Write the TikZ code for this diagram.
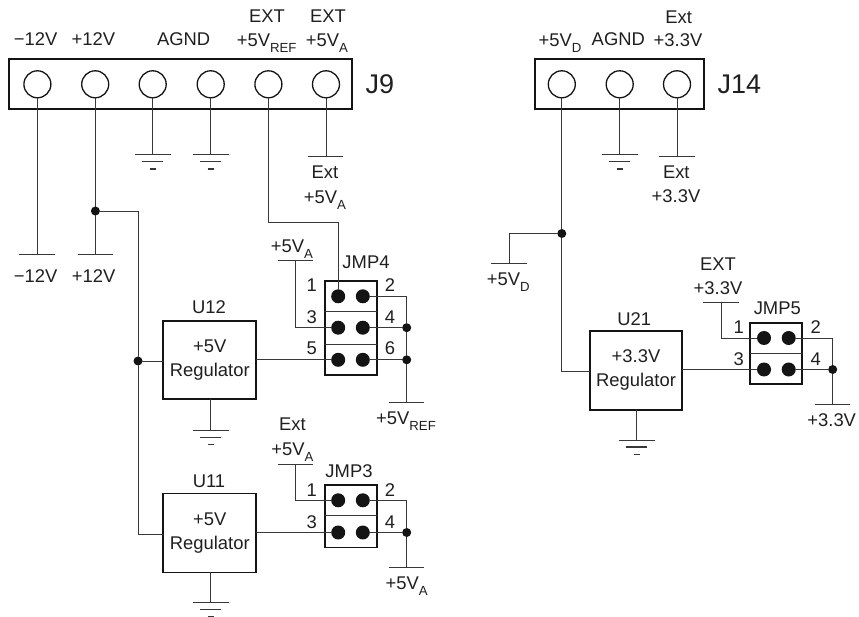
\documentclass[tikz,border=0pt]{standalone}
\usepackage{fontspec}
\setmainfont{Liberation Sans}
\newcommand{\subs}[1]{\raisebox{-0.33em}{\fontsize{13.2}{14}\selectfont #1}}
\tikzset{
  wire/.style={draw=black!78,line width=0.95pt,line cap=round,line join=miter},
  bar/.style={draw=black!78,line width=0.95pt},
  box/.style={draw=black!92,line width=1.9pt,inner sep=0pt,outer sep=0pt,rectangle,align=center,font=\fontsize{18.4}{24}\selectfont,text=black!88},
  jbox/.style={draw=black!92,line width=1.7pt,inner sep=0pt,outer sep=0pt,rectangle},
  term/.style={circle,draw=black!92,line width=1.3pt,minimum size=27pt,inner sep=0pt,outer sep=0pt},
  pin/.style={circle,fill=black!92,minimum size=14pt,inner sep=0pt,outer sep=0pt},
  junction/.style={circle,fill=black!92,minimum size=9pt,inner sep=0pt,outer sep=0pt},
  txt/.style={anchor=base,inner sep=0pt,outer sep=0pt,yshift=-6.5pt,text=black!88,font=\fontsize{18.4}{20}\selectfont},
  bigtxt/.style={anchor=base,inner sep=0pt,outer sep=0pt,yshift=-9pt,text=black!88,font=\fontsize{27}{28}\selectfont},
  gndsym/.pic={
    \draw[bar] (-18,0) -- (18,0);
    \draw[bar,line width=1.3pt] (-10.5,7) -- (10.5,7);
    \draw[bar,line width=1.1pt] (-3,14.5) -- (3,14.5);
  },
}
\begin{document}
\begin{tikzpicture}[x=1pt,y=-1pt]
\useasboundingbox (0,0) rectangle (859,617);
% ---------- J9
\node[jbox,minimum width=343pt,minimum height=49.5pt] (J9) at (180.5,84) {};
\foreach \n/\x in {a/37.4,b/95.2,c/152.7,d/210.7,e/268.4,f/326}
  \node[term] (J9\n) at (\x,84.3) {};
\node[bigtxt] (J9l) at (380,85) {J9};
\node[txt] (t1) at (35.7,39) {−12V};
\node[txt] (t2) at (93.3,39) {+12V};
\node[txt] (t3) at (183.7,39) {AGND};
\node[txt] (t4) at (267,16) {EXT};
\node[txt] (t5) at (266.7,40) {+5V\subs{REF}};
\node[txt] (t6) at (328,16) {EXT};
\node[txt] (t7) at (327,40) {+5V\subs{A}};
% rails from J9
\coordinate (m12) at (37.4,254);
\coordinate (p12) at (95.2,254);
\draw[wire] (J9a.south) -- (m12);
\draw[bar] (19,254) -- (55,254);
\draw[wire] (J9b.south) -- (p12);
\draw[bar] (77.5,254) -- (113,254);
\node[txt] (t8) at (35.7,276) {−12V};
\node[txt] (t9) at (93.7,276) {+12V};
\coordinate (g1) at (152.7,154.5);
\coordinate (g2) at (210.7,154.5);
\draw[wire] (J9c.south) -- (g1);
\draw[wire] (J9d.south) -- (g2);
\pic at (g1) {gndsym};
\pic at (g2) {gndsym};
\coordinate (xa) at (326,156);
\draw[wire] (J9f.south) -- (xa);
\draw[bar] (308,156) -- (343,156);
\node[txt] (t10) at (325,172) {Ext};
\node[txt] (t11) at (325,197) {+5V\subs{A}};
% ---------- U12
\node[box,minimum width=93pt,minimum height=78.5pt] (U12) at (209.8,360) {+5V\\Regulator};
\node[txt] (t12) at (209,307) {U12};
\coordinate (g3) at (210.7,430.3);
\draw[wire] (U12.south -| g3) -- (g3);
\pic at (g3) {gndsym};
% ---------- JMP4
\node[jbox,minimum width=51.7pt,minimum height=94pt] (JMP4) at (350.8,327.7) {};
\draw[wire] (JMP4.west |- 0,311) -- (JMP4.east |- 0,311);
\draw[wire] (JMP4.west |- 0,344) -- (JMP4.east |- 0,344);
\node[pin] (p41) at (338.2,296.3) {};
\node[pin] (p42) at (362.8,296.3) {};
\node[pin] (p43) at (338.2,327.7) {};
\node[pin] (p44) at (362.8,327.7) {};
\node[pin] (p45) at (338.2,359.8) {};
\node[pin] (p46) at (362.8,359.8) {};
\node[txt] (t13) at (366,261.7) {JMP4};
\node[txt] (n41) at (311.7,285) {1};
\node[txt] (n43) at (311.7,316.7) {3};
\node[txt] (n45) at (311.7,348) {5};
\node[txt] (n42) at (390,285) {2};
\node[txt] (n44) at (390,316.7) {4};
\node[txt] (n46) at (390,348) {6};
\node[txt] (t14) at (292,245.7) {+5V\subs{A}};
\coordinate (a4) at (295.7,260.7);
\draw[bar] (278,260.7) -- (313,260.7);
\draw[wire] (a4) |- (p43.west);
\coordinate (e4) at (268.4,222);
\draw[wire] (J9e.south) -- (e4) -| (p41.north);
\node[junction] (j44) at (406.7,327.7) {};
\node[junction] (j46) at (406.7,359.8) {};
\coordinate (r4) at (406.7,402.7);
\draw[wire] (p42.east) -| (j44.north);
\draw[wire] (p44.east) -- (j44.west);
\draw[wire] (p46.east) -- (j46.west);
\draw[wire] (j44.south) -- (j46.north);
\draw[wire] (j46.south) -- (r4);
\draw[bar] (389,402.7) -- (424,402.7);
\node[txt] (t15) at (406,418) {+5V\subs{REF}};
\draw[wire] (U12.east |- p45) -- (p45.west);
% ---------- U11
\node[box,minimum width=93pt,minimum height=79pt] (U11) at (209.8,533) {+5V\\Regulator};
\node[txt] (t16) at (209,480.7) {U11};
\coordinate (g4) at (210.7,602.3);
\draw[wire] (U11.south -| g4) -- (g4);
\pic at (g4) {gndsym};
% ---------- JMP3
\node[jbox,minimum width=51.7pt,minimum height=62.3pt] (JMP3) at (350.8,516.2) {};
\draw[wire] (JMP3.west |- 0,515.3) -- (JMP3.east |- 0,515.3);
\node[pin] (p31) at (338.2,500.3) {};
\node[pin] (p32) at (362.8,500.3) {};
\node[pin] (p33) at (338.2,532.5) {};
\node[pin] (p34) at (362.8,532.5) {};
\node[txt] (t17) at (349,470.7) {JMP3};
\node[txt] (n31) at (311.7,490) {1};
\node[txt] (n33) at (311.7,521.7) {3};
\node[txt] (n32) at (390,490) {2};
\node[txt] (n34) at (390,521.7) {4};
\node[txt] (t18) at (292.5,424) {Ext};
\node[txt] (t19) at (292.5,449) {+5V\subs{A}};
\coordinate (a3) at (295.7,464.7);
\draw[bar] (278,464.7) -- (313,464.7);
\draw[wire] (a3) |- (p31.west);
\node[junction] (j34) at (406.7,532.5) {};
\coordinate (r3) at (406.7,567.7);
\draw[wire] (p32.east) -| (j34.north);
\draw[wire] (p34.east) -- (j34.west);
\draw[wire] (j34.south) -- (r3);
\draw[bar] (389,567.7) -- (424,567.7);
\node[txt] (t20) at (406.7,583) {+5V\subs{A}};
\draw[wire] (U11.east |- p33) -- (p33.west);
% ---------- +12V feed
\node[junction] (j12) at (95.4,211) {};
\node[junction] (jU) at (138,361) {};
\draw[wire] (j12.east) -| (jU.north);
\draw[wire] (jU.east) -- (U12.west |- jU);
\draw[wire] (jU.south) |- (U11.west |- 0,534);
% ---------- J14
\node[jbox,minimum width=169.3pt,minimum height=49.5pt] (J14) at (619.4,84) {};
\foreach \n/\x in {a/561.8,b/619.7,c/677}
  \node[term] (J14\n) at (\x,84.3) {};
\node[bigtxt] (J14l) at (739.3,85) {J14};
\node[txt] (t21) at (560,40) {+5V\subs{D}};
\node[txt] (t22) at (618.3,39) {AGND};
\node[txt] (t23) at (678.7,17) {Ext};
\node[txt] (t24) at (678,40) {+3.3V};
\coordinate (g5) at (619.7,154.5);
\draw[wire] (J14b.south) -- (g5);
\pic at (g5) {gndsym};
\coordinate (xb) at (677,156);
\draw[wire] (J14c.south) -- (xb);
\draw[bar] (659,156) -- (694.5,156);
\node[txt] (t25) at (676.3,172) {Ext};
\node[txt] (t26) at (676,196) {+3.3V};
\node[junction] (j5d) at (561.8,233.5) {};
\coordinate (d5) at (509.3,263);
\draw[wire] (J14a.south) -- (j5d.north);
\draw[wire] (j5d.west) -| (d5);
\draw[bar] (491.3,263) -- (526.7,263);
\node[txt] (t27) at (508.3,279) {+5V\subs{D}};
% ---------- U21
\node[box,minimum width=92.6pt,minimum height=79pt] (U21) at (636,370.2) {+3.3V\\Regulator};
\node[txt] (t28) at (634.3,318.7) {U21};
\draw[wire] (j5d.south) |- (U21.west |- 0,371);
\coordinate (g6) at (636.7,440);
\draw[wire] (U21.south -| g6) -- (g6);
\pic at (g6) {gndsym};
% ---------- JMP5
\node[jbox,minimum width=52pt,minimum height=61.3pt] (JMP5) at (776.3,353.4) {};
\draw[wire] (JMP5.west |- 0,353) -- (JMP5.east |- 0,353);
\node[pin] (p51) at (764,338) {};
\node[pin] (p52) at (788.7,338) {};
\node[pin] (p53) at (764,369.5) {};
\node[pin] (p54) at (788.7,369.5) {};
\node[txt] (t29) at (777.3,308) {JMP5};
\node[txt] (n51) at (738.7,327) {1};
\node[txt] (n53) at (738.7,359) {3};
\node[txt] (n52) at (815.7,327) {2};
\node[txt] (n54) at (815.7,359) {4};
\node[txt] (t30) at (718,264) {EXT};
\node[txt] (t31) at (718,287.7) {+3.3V};
\coordinate (a5) at (721.3,302);
\draw[bar] (703.3,302) -- (738.7,302);
\draw[wire] (a5) |- (p51.west);
\node[junction] (j54) at (832.7,369.5) {};
\coordinate (r5) at (832.7,404.7);
\draw[wire] (p52.east) -| (j54.north);
\draw[wire] (p54.east) -- (j54.west);
\draw[wire] (j54.south) -- (r5);
\draw[bar] (815,404.7) -- (850.3,404.7);
\node[txt] (t32) at (831.7,420.3) {+3.3V};
\draw[wire] (U21.east |- p53) -- (p53.west);
\end{tikzpicture}
\end{document}
